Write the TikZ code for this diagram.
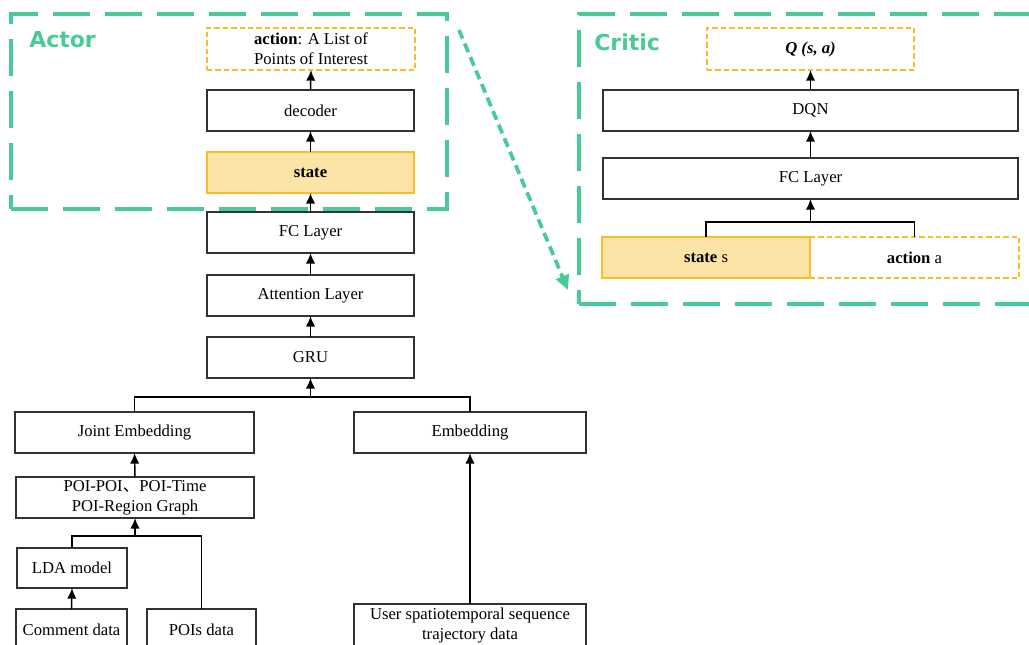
\documentclass[tikz,border=0pt]{standalone}
\usepackage{fontspec}
\setmainfont{Liberation Serif}
\newfontfamily\labelfont{DejaVu Sans}
\newfontfamily\cjk{Noto Sans CJK SC}
\usetikzlibrary{arrows.meta}
\definecolor{grn}{RGB}{72,203,150}
\definecolor{ylw}{RGB}{246,190,40}
\definecolor{yfill}{RGB}{252,228,166}
\definecolor{bline}{RGB}{50,50,50}
\newcommand{\bx}[7]{\node[#6, minimum width={(#4-#2)*0.75pt}, minimum height={(#5-#3)*0.75pt}] (#1) at ({(#2+#4)/2},{(#3+#5)/2}) {#7};}
\begin{document}
\begin{tikzpicture}[x=0.75pt,y=-0.75pt, font=\fontsize{12.5}{15}\selectfont,
 box/.style={draw=bline, line width=1pt, fill=white, inner sep=0pt, outer sep=0pt, align=center},
 ybox/.style={draw=ylw, dash pattern=on 4pt off 2.3pt, line width=1.9pt, inner sep=0pt, outer sep=0pt, align=center},
 sbox/.style={draw=ylw, fill=yfill, line width=1.4pt, inner sep=0pt, outer sep=0pt, align=center},
 arr/.style={-{Latex[length=8pt,width=7pt]}, line width=1.1pt},
 ln/.style={line width=1.1pt},
 grp/.style={draw=grn, line width=3pt, dash pattern=on 28pt off 11pt, inner sep=0pt, outer sep=0pt},
 glabel/.style={text=grn, font=\labelfont\bfseries\fontsize{16.5}{18}\selectfont, anchor=west, inner sep=0pt}]
\useasboundingbox (0,0) rectangle (1029,645);
\clip (0,0) rectangle (1029,645);
% group frames
\bx{actorframe}{11}{14}{447}{209}{grp}{}
\bx{criticframe}{579}{14}{1050}{304}{grp}{}
\node[glabel] (actorlbl) at (29,40) {Actor};
\node[glabel] (criticlbl) at (594,42) {Critic};
\coordinate (gs) at (459,30);
\coordinate (ge) at (568,290);
\draw[grn, line width=2.8pt, dash pattern=on 7pt off 4pt, -{Triangle[length=11pt,width=10pt]}] (gs) -- (ge);
% actor column
\bx{action}{207}{28}{415}{70}{ybox}{\textbf{action}: A List of\\Points of Interest}
\bx{decoder}{207}{90}{414}{131}{box}{decoder}
\bx{state}{207}{152}{414}{193}{sbox}{\textbf{state}}
\bx{fc}{207}{212}{414}{253}{box}{FC Layer}
\bx{att}{207}{275}{414}{316}{box}{Attention Layer}
\bx{gru}{207}{337}{414}{378}{box}{GRU}
\bx{joint}{15}{412}{254}{453}{box}{Joint Embedding}
\bx{emb}{354}{412}{586}{453}{box}{Embedding}
\bx{poi}{16}{477}{254}{518}{box}{POI-POI{\cjk 、}POI-Time\\POI-Region Graph}
\bx{lda}{17}{548}{127}{588}{box}{LDA model}
\bx{comment}{16}{609}{127}{651}{box}{Comment data}
\bx{pois}{147}{609}{256}{651}{box}{POIs data}
\bx{user}{354}{604}{586}{647}{box}{User spatiotemporal sequence\\trajectory data}
% critic column
\bx{q}{707}{28}{914}{70}{ybox}{\textbf{\textit{Q (s, a)}}}
\bx{dqn}{603}{90}{1018}{131}{box}{DQN}
\bx{cfc}{603}{158}{1018}{199}{box}{FC Layer}
\bx{aa}{810}{237}{1019}{278}{ybox}{\textbf{action} a}
\bx{ss}{602}{237}{810}{278}{sbox}{\textbf{state} s}
% connectors
\draw[arr] (decoder.north) -- (action.south);
\draw[arr] (state.north) -- (decoder.south);
\draw[arr] (fc.north) -- (state.south);
\draw[arr] (att.north) -- (fc.south);
\draw[arr] (gru.north) -- (att.south);
\coordinate (b1) at (310.5,397);
\draw[ln] (joint.north) |- (b1) -| (emb.north);
\draw[arr] (b1) -- (gru.south);
\draw[arr] (poi.north) -- (joint.south);
\coordinate (b2) at (135,536);
\draw[ln] (lda.north) |- (b2) -| (pois.north);
\draw[arr] (b2) -- (poi.south);
\draw[arr] (comment.north) -- (lda.south);
\draw[arr] (user.north) -- (emb.south);
\draw[arr] (dqn.north) -- (q.south);
\draw[arr] (cfc.north) -- (dqn.south);
\coordinate (b3) at (810.5,222);
\draw[ln] (ss.north) |- (b3) -| (aa.north);
\draw[arr] (b3) -- (cfc.south);
\end{tikzpicture}
\end{document}
